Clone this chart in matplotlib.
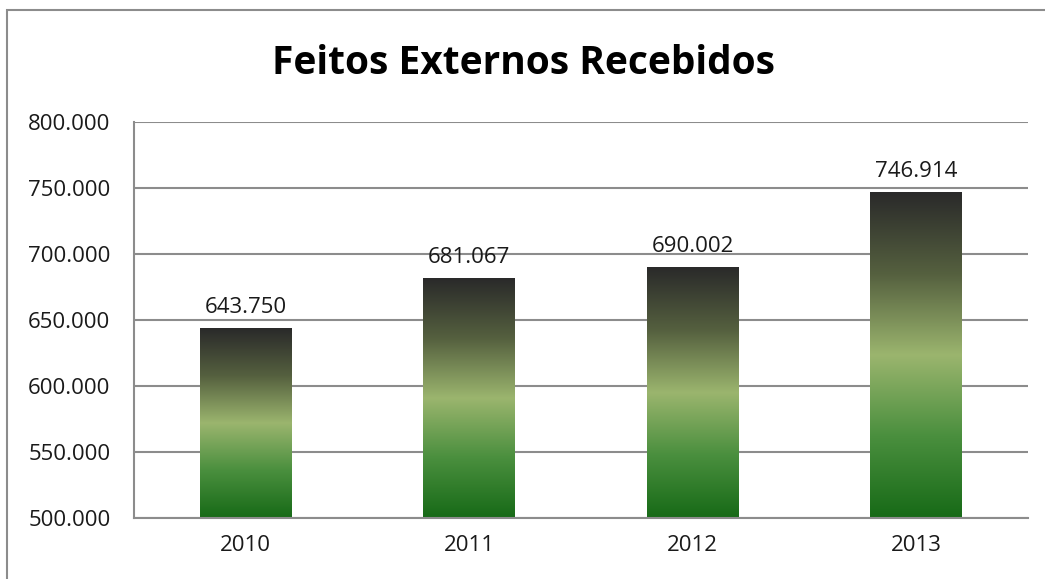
import numpy as np
import matplotlib
matplotlib.use("Agg")
import matplotlib.pyplot as plt
from matplotlib.colors import LinearSegmentedColormap
from matplotlib.patches import Rectangle

# ---------------------------------------------------------------- DATA
years = ["2010", "2011", "2012", "2013"]
values = [643750, 681067, 690002, 746914]
y_ticks = [500000, 550000, 600000, 650000, 700000, 750000, 800000]


def fmt(v):
    return "{:,}".format(int(v)).replace(",", ".")


plt.rcParams['font.family'] = ['Open Sans', 'DejaVu Sans']

grad = LinearSegmentedColormap.from_list(
    "bar", [(0.0, "#176a17"), (0.25, "#4a8f3e"), (0.5, "#9bb56e"),
            (0.75, "#55603f"), (1.0, "#2a2a2a")])

fig = plt.figure(figsize=(10.45, 5.79), dpi=100)
# outer chart frame
fig.add_artist(Rectangle((7 / 1045, -0.05), 1.1, 1.05 - 10 / 579,
                         transform=fig.transFigure, fill=False,
                         edgecolor="#8c8c8c", linewidth=1.5))

ax = fig.add_axes([134 / 1045, 1 - 518 / 579, (1028 - 134) / 1045, (518 - 122) / 579])
x = np.arange(len(years))
bar_w = 0.41

gradient = np.linspace(0, 1, 256).reshape(-1, 1)
for xi, v in zip(x, values):
    ax.imshow(gradient, cmap=grad, aspect="auto", origin="lower",
              extent=(xi - bar_w / 2, xi + bar_w / 2, y_ticks[0], v), zorder=2)
    ax.text(xi, v + 8000, fmt(v), ha="center", va="bottom", fontsize=16,
            color="#1a1a1a")
ax.set_xlim(-0.5, len(years) - 0.5)
ax.set_ylim(y_ticks[0], y_ticks[-1])

ax.set_yticks(y_ticks)
ax.set_yticklabels([fmt(t) for t in y_ticks], fontsize=16)
ax.set_xticks(x)
ax.set_xticklabels(years, fontsize=16)
ax.tick_params(axis="both", length=0, labelcolor="#1a1a1a")
ax.tick_params(axis="x", pad=12)
ax.tick_params(axis="y", pad=17)
ax.yaxis.grid(True, color="#8c8c8c", linewidth=1.5, zorder=1)
ax.set_axisbelow(True)
for s in ["top", "right"]:
    ax.spines[s].set_visible(False)
for s in ["left", "bottom"]:
    ax.spines[s].set_color("#8c8c8c")
    ax.spines[s].set_linewidth(1.5)

fig.text(523 / 1045, 1 - 63 / 579, "Feitos Externos Recebidos", ha="center",
         va="center", fontsize=28, fontweight="bold")

fig.savefig("out.png", dpi=100)
